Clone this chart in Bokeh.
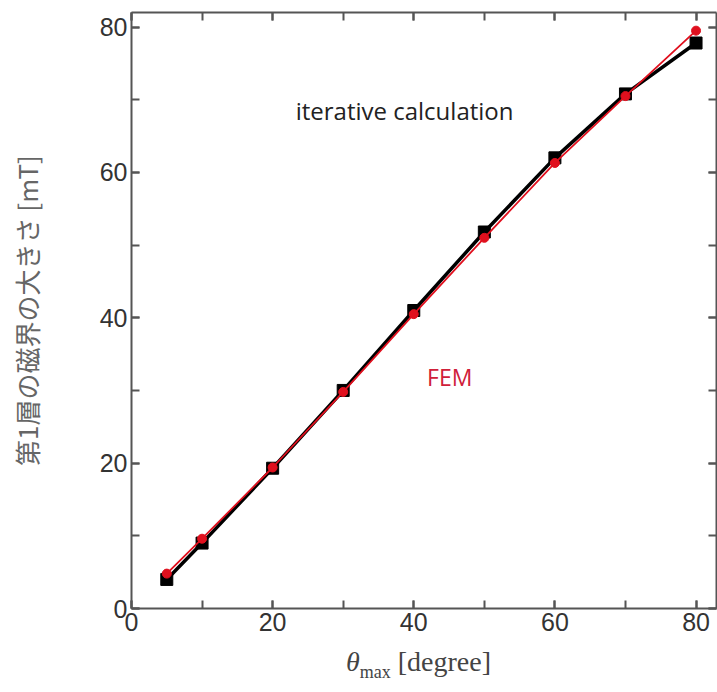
from bokeh.plotting import figure
from bokeh.layouts import column
from bokeh.models import (Range1d, SingleIntervalTicker, LinearAxis, Label, Div)
from bokeh.embed import file_html
from bokeh.resources import INLINE

# Maximum angle [degree]
theta_max = [5, 10, 20, 30, 40, 50, 60, 70, 80]
# First-layer magnetic field [mT]
iterative = [4.0, 9.0, 19.3, 30.0, 41.0, 51.8, 62.0, 70.8, 77.8]
fem = [4.8, 9.6, 19.4, 29.8, 40.5, 51.0, 61.3, 70.5, 79.5]
tick_values = [0, 20, 40, 60, 80]

AXIS_GRAY = "#555555"
RED = "#e0101e"

p = figure(width=717, height=642, output_backend="svg", toolbar_location=None,
           x_range=Range1d(0, 82.9), y_range=Range1d(0, 82.0),
           x_axis_location=None, y_axis_location=None,
           min_border_left=131, min_border_bottom=34, min_border_top=12,
           min_border_right=1)
p.grid.visible = False
p.outline_line_color = None
p.background_fill_color = "white"
p.border_fill_color = "white"


def styled_axis(show_labels):
    ax = LinearAxis(ticker=SingleIntervalTicker(interval=20, num_minor_ticks=2))
    ax.axis_line_color = AXIS_GRAY
    ax.axis_line_width = 2
    ax.major_tick_line_color = AXIS_GRAY
    ax.major_tick_line_width = 2
    ax.minor_tick_line_color = AXIS_GRAY
    ax.minor_tick_line_width = 2
    ax.major_tick_in = 8
    ax.major_tick_out = 0
    ax.minor_tick_in = 8
    ax.minor_tick_out = 0
    if show_labels:
        ax.major_label_text_font = "Liberation Sans"
        ax.major_label_text_font_size = "25px"
        ax.major_label_text_color = "#333333"
        ax.major_label_standoff = 4
    else:
        # mirrored frame side: ticks only
        ax.major_label_overrides = {v: "" for v in tick_values}
        ax.major_label_text_font_size = "1px"
        ax.major_label_standoff = 0
    return ax


bottom = styled_axis(True)
left = styled_axis(True)
left.axis_label = "第1層の磁界の大きさ [mT]"
left.axis_label_text_font = "Noto Sans CJK JP"
left.axis_label_text_font_style = "normal"
left.axis_label_text_font_size = "26px"
left.axis_label_text_color = "#666666"
left.axis_label_standoff = 52
top = styled_axis(False)
right = styled_axis(False)
p.add_layout(bottom, "below")
p.add_layout(left, "left")
p.add_layout(top, "above")
p.add_layout(right, "right")

# Iterative calculation: black squares
p.line(theta_max, iterative, line_color="black", line_width=3.5)
p.scatter(theta_max, iterative, marker="square", size=12, fill_color="black",
          line_color="black")
# FEM: red circles
p.line(theta_max, fem, line_color=RED, line_width=1.8)
p.scatter(theta_max, fem, marker="circle", size=9, fill_color=RED,
          line_color=RED)

p.add_layout(Label(x=38.7, y=68.5, text="iterative calculation",
                   text_font="Open Sans", text_font_size="24px",
                   text_color="#222222", text_align="center",
                   text_baseline="middle"))
p.add_layout(Label(x=45.1, y=31.8, text="FEM", text_font="Open Sans",
                   text_font_size="23px", text_color="#d0203a",
                   text_align="center", text_baseline="middle"))

# x-axis title: theta with "max" subscript, then the unit
xtitle = Div(
    text='<i>θ</i><sub style="font-size:18px">max</sub> [degree]',
    width=717, height=50, margin=(0, 0, 0, 0),
    styles={"font-family": "Liberation Serif", "font-size": "28px",
            "color": "#444444", "text-align": "center",
            "padding-left": "120px", "padding-top": "0px",
            "box-sizing": "border-box", "width": "717px"})

layout = column(p, xtitle, spacing=0)
open("out.html", "w").write(file_html(layout, INLINE))
